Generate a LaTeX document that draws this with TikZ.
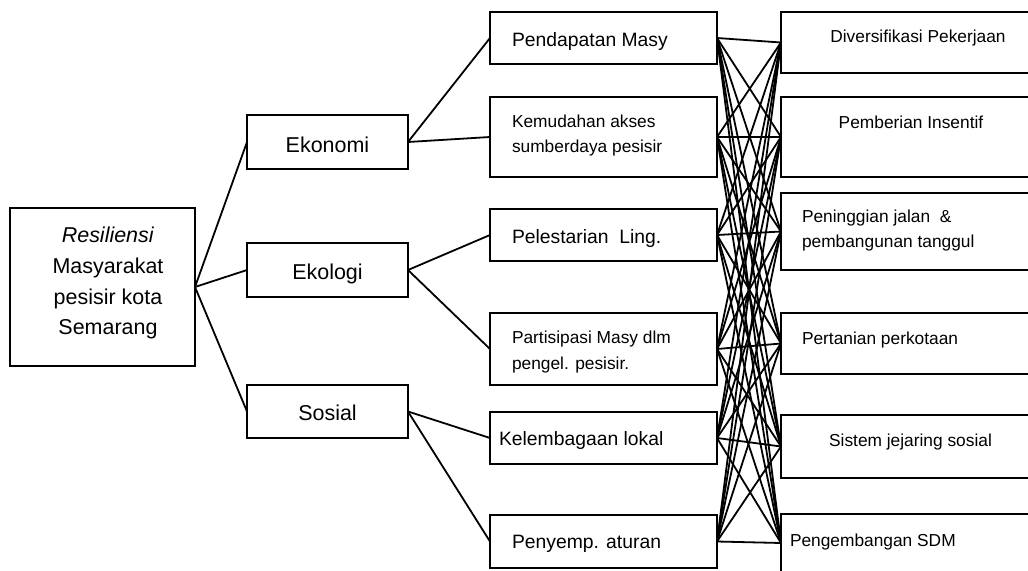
\documentclass[tikz,border=0pt]{standalone}
\usepackage{fontspec}
\setmainfont{Liberation Sans}
\begin{document}
\begin{tikzpicture}[x=0.75pt,y=-0.75pt,
  box/.style={draw, line width=1.4pt, inner sep=0pt, outer sep=0pt},
  conn/.style={line width=1.35pt, line cap=round},
  lbl/.style={inner sep=0pt, outer sep=0pt},
  fbig/.style={font=\fontsize{16.1}{23}\selectfont},
  fmid/.style={font=\fontsize{14.5}{18.75}\selectfont},
  fsml/.style={font=\fontsize{13}{18.75}\selectfont}]
\clip (0,0) rectangle (1028,571);
\fill[white] (0,0) rectangle (1028,571);
% root
\node[box, minimum width=138.75pt, minimum height=118.5pt] (root) at (102.5,287) {};
\node[lbl, fbig, align=center] (rootT) at (108,283.4) {\textit{Resiliensi}\\Masyarakat\\pesisir kota\\Semarang};
% left column
\node[box, minimum width=120.75pt, minimum height=40.5pt] (eko) at (327.5,142) {};
\node[box, minimum width=120.75pt, minimum height=40.5pt] (ekl) at (327.5,270) {};
\node[box, minimum width=120.75pt, minimum height=39.75pt] (sos) at (327.5,411.5) {};
\node[lbl, fbig, anchor=base] (ekoT) at (327.5,152) {Ekonomi};
\node[lbl, fbig, anchor=base] (eklT) at (327.5,279) {Ekologi};
\node[lbl, fbig, anchor=base] (sosT) at (327.5,420) {Sosial};
% middle column
\node[box, minimum width=170.25pt, minimum height=39pt] (m1) at (603.5,38) {};
\node[box, minimum width=170.25pt, minimum height=60pt] (m2) at (603.5,137) {};
\node[box, minimum width=170.25pt, minimum height=39pt] (m3) at (603.5,235) {};
\node[box, minimum width=170.25pt, minimum height=54pt] (m4) at (603.5,349) {};
\node[box, minimum width=170.25pt, minimum height=39pt] (m5) at (603.5,438) {};
\node[box, minimum width=170.25pt, minimum height=39.75pt] (m6) at (603.5,541.5) {};
\node[lbl, fmid, anchor=base west] (m1T) at (512,46) {Pendapatan Masy};
\node[lbl, fsml, anchor=west, align=left] (m2T) at (512,136) {Kemudahan akses\\sumberdaya pesisir};
\node[lbl, fmid, anchor=base west] (m3T) at (512,243) {Pelestarian\ \ Ling.};
\node[lbl, fsml, anchor=west, align=left, font=\fontsize{13}{19.5}\selectfont] (m4T) at (512,352.5) {Partisipasi Masy dlm\\pengel. pesisir.};
\node[lbl, fmid, anchor=base west] (m5T) at (499,445) {Kelembagaan lokal};
\node[lbl, fmid, anchor=base west] (m6T) at (512,548) {Penyemp. aturan};
% right column
\node[box, minimum width=198pt, minimum height=45.75pt] (r1) at (913,42.5) {};
\node[box, minimum width=198pt, minimum height=60pt] (r2) at (913,137) {};
\node[box, minimum width=198pt, minimum height=57.75pt] (r3) at (913,231.5) {};
\node[box, minimum width=198pt, minimum height=45.75pt] (r4) at (913,343.5) {};
\node[box, minimum width=198pt, minimum height=47.25pt] (r5) at (913,446.5) {};
\node[box, minimum width=198pt, minimum height=43.5pt] (r6) at (913,543) {};
\node[lbl, fsml, anchor=base] (r1T) at (918,42) {Diversifikasi Pekerjaan};
\node[lbl, fsml, anchor=base] (r2T) at (911,128) {Pemberian Insentif};
\node[lbl, fsml, anchor=west, align=left] (r3T) at (802,231) {Peninggian jalan\ \ \&\\pembangunan tanggul};
\node[lbl, fsml, anchor=base west] (r4T) at (802,344) {Pertanian perkotaan};
\node[lbl, fsml, anchor=base] (r5T) at (910.5,446) {Sistem jejaring sosial};
\node[lbl, fsml, anchor=base west] (r6T) at (790,546) {Pengembangan SDM};
% tree connectors
\draw[conn] (root.east) -- (eko.west);
\draw[conn] (root.east) -- (ekl.west);
\draw[conn] (root.east) -- (sos.west);
\draw[conn] (eko.east) -- (m1.west);
\draw[conn] (eko.east) -- (m2.west);
\draw[conn] (ekl.east) -- (m3.west);
\draw[conn] (ekl.east) -- (m4.west);
\draw[conn] (sos.east) -- (m5.west);
\draw[conn] (sos.east) -- (m6.west);
% full bipartite connectors
\foreach \m in {m1,m2,m3,m4,m5,m6}{
  \foreach \r in {r1,r2,r3,r4,r5,r6}{
    \draw[conn] (\m.east) -- (\r.west);
  }
}
\end{tikzpicture}
\end{document}
